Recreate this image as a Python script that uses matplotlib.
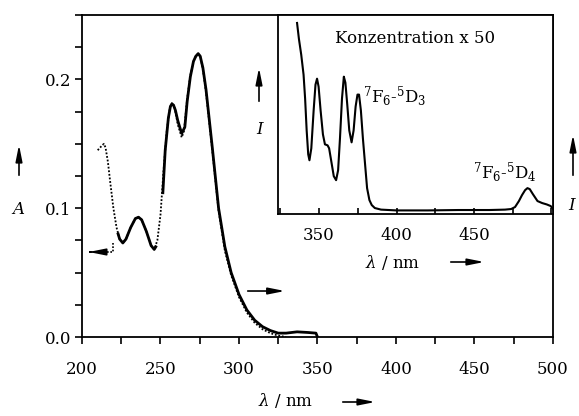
import numpy as np
import matplotlib
matplotlib.use('Agg')
import matplotlib.pyplot as plt

plt.rcParams['font.family'] = ['DejaVu Serif']
plt.rcParams['mathtext.fontset'] = 'dejavuserif'

# Absorption spectrum (dotted, left axis A)
abs_wl = [210, 211.5, 213, 214, 215, 216.5, 218, 220, 222, 224, 226, 228, 231, 234, 236, 238,
          241, 244, 246, 248, 250, 252, 254, 256, 257.5, 259, 261, 263.5, 265, 267, 269, 271,
          272.5, 274, 275.3, 277, 279, 283, 287, 291, 295, 300, 305, 310, 315, 320, 325, 330]
abs_A = [0.145, 0.147, 0.149, 0.150, 0.147, 0.136, 0.120, 0.100, 0.085, 0.076, 0.073, 0.076,
         0.085, 0.092, 0.093, 0.091, 0.082, 0.071, 0.068, 0.075, 0.095, 0.130, 0.160, 0.178,
         0.182, 0.178, 0.165, 0.155, 0.160, 0.185, 0.203, 0.214, 0.218, 0.220, 0.218, 0.208,
         0.190, 0.145, 0.098, 0.067, 0.048, 0.031, 0.019, 0.011, 0.006, 0.003, 0.001, 0.0]

# Excitation spectrum (solid, right axis I), two pieces
exc1_wl = [223, 224, 226, 228, 231, 234, 236, 238, 241, 244, 246, 247]
exc1_I = [0.080, 0.076, 0.073, 0.076, 0.085, 0.092, 0.093, 0.091, 0.082, 0.071, 0.068, 0.070]
exc2_wl = [251.5, 253, 255, 256.3, 257.3, 258.3, 259.5, 261, 263.5, 265.5, 267, 269, 271,
           272.5, 274, 275.3, 277, 279, 283, 287, 291, 295, 300, 305, 310, 315, 320, 325,
           330, 337, 344, 349, 350]
exc2_I = [0.112, 0.145, 0.170, 0.179, 0.181, 0.180, 0.176, 0.168, 0.158, 0.163, 0.183, 0.202,
          0.214, 0.218, 0.220, 0.218, 0.209, 0.192, 0.147, 0.100, 0.070, 0.050, 0.033, 0.021,
          0.013, 0.008, 0.005, 0.003, 0.003, 0.004, 0.0035, 0.003, 0.0]

# Inset: spectrum at 50x concentration
ins_wl = [335.8, 337, 338.5, 340, 341, 342, 343, 343.8, 345, 346.5, 347.7, 348.7, 349.7, 351,
          352.5, 353.8, 355.5, 356.5, 358, 359.5, 361, 362.3, 363.5, 364.8, 366, 367, 368.2,
          369.5, 371, 372.3, 373.6, 374.8, 375.8, 377, 378.3, 379.7, 381, 382.5, 384, 386,
          390, 400, 420, 440, 460, 470, 474, 476.5, 479, 481, 483, 484.5, 486, 488, 491, 494,
          497, 499.5, 501]
ins_I = [0.96, 0.88, 0.80, 0.70, 0.58, 0.42, 0.30, 0.27, 0.33, 0.52, 0.65, 0.68, 0.64, 0.52,
         0.40, 0.35, 0.345, 0.33, 0.26, 0.19, 0.17, 0.22, 0.38, 0.58, 0.69, 0.66, 0.55, 0.42,
         0.36, 0.42, 0.54, 0.60, 0.60, 0.52, 0.38, 0.25, 0.13, 0.07, 0.045, 0.03, 0.022, 0.018,
         0.018, 0.02, 0.02, 0.022, 0.025, 0.035, 0.065, 0.095, 0.12, 0.13, 0.125, 0.10, 0.065,
         0.055, 0.048, 0.04, 0.025]

W, H = 579, 416
fig = plt.figure(figsize=(W / 100, H / 100), dpi=100)


def fpos(x, y):
    # pixel position (from top left) -> figure fraction
    return (x / W, 1 - y / H)


ax = fig.add_axes([82 / W, (H - 337) / H, (553 - 82) / W, (337 - 15) / H])
ax.plot(abs_wl, abs_A, color='k', lw=1.3, linestyle=(0, (1, 1)))
ax.plot(exc1_wl, exc1_I, color='k', lw=2.0, solid_joinstyle='round')
ax.plot(exc2_wl, exc2_I, color='k', lw=2.0, solid_joinstyle='round')
ax.set_xlim(200, 500)
ax.set_ylim(0, 0.25)
ax.set_xticks(np.arange(200, 501, 50))
ax.set_xticks(np.arange(200, 501, 25), minor=True)
ax.set_yticks([0.0, 0.1, 0.2])
ax.set_yticklabels(['0.0', '0.1', '0.2'])
ax.set_yticks(np.arange(0, 0.251, 0.025), minor=True)
ax.tick_params(which='both', direction='out', length=5, width=1.2, labelsize=12)
ax.tick_params(axis='x', which='both', pad=12)
ax.tick_params(axis='y', which='both', pad=3)
for s in ax.spines.values():
    s.set_linewidth(1.3)

# narrow filled arrow heads like the original
arrow = dict(arrowstyle='-|>,head_length=0.9,head_width=0.18', color='k', lw=1.2,
             mutation_scale=11)

# arrows pointing to the axes
ax.plot([219.7, 219.7, 206], [0.073, 0.066, 0.066], color='k', lw=1.2, linestyle=(0, (1, 1)))
ax.annotate('', xy=(202.5, 0.066), xytext=(207, 0.066), arrowprops=arrow)
ax.annotate('', xy=(331, 0.0357), xytext=(303.8, 0.0357), arrowprops=arrow)

# inset
axi = fig.add_axes([278 / W, (H - 214) / H, (553 - 278) / W, (214 - 15) / H])
axi.plot(ins_wl, ins_I, color='k', lw=1.5, solid_joinstyle='round')
axi.set_xlim(323.5, 501)
axi.set_ylim(0, 1)
axi.set_xticks([350, 400, 450])
axi.set_xticks(np.arange(325, 501, 25), minor=True)
axi.set_yticks([])
axi.tick_params(which='both', direction='in', length=4, width=1.2, labelsize=12, pad=9)
for s in axi.spines.values():
    s.set_linewidth(1.3)
axi.text(360.3, 0.884, 'Konzentration x 50', fontsize=12, va='center', ha='left')
axi.text(378.4, 0.588, r'$^7$F$_6$-$^5$D$_3$', fontsize=12, va='center', ha='left')
axi.text(449.4, 0.206, r'$^7$F$_6$-$^5$D$_4$', fontsize=12, va='center', ha='left')

# axis labels with arrows
fig.text(*fpos(18, 210), 'A', fontsize=12, fontstyle='italic', ha='center', va='center')
fig.text(*fpos(572, 205), 'I', fontsize=12, fontstyle='italic', ha='center', va='center')
fig.text(*fpos(260, 129), 'I', fontsize=12, fontstyle='italic', ha='center', va='center')
fig.text(*fpos(258, 400), r'$\lambda$ / nm', fontsize=12, ha='left', va='center')
fig.text(*fpos(365, 262), r'$\lambda$ / nm', fontsize=12, ha='left', va='center')
for tail, head in [((19, 178), (19, 142)), ((573, 178), (573, 132)), ((259, 104), (259, 65)),
                   ((340, 402), (378, 402)), ((448, 262), (487, 262))]:
    fig.add_artist(plt.matplotlib.text.Annotation('', xy=fpos(*head), xytext=fpos(*tail),
                   xycoords='figure fraction', textcoords='figure fraction', arrowprops=arrow))

fig.savefig('out.png', dpi=100)
